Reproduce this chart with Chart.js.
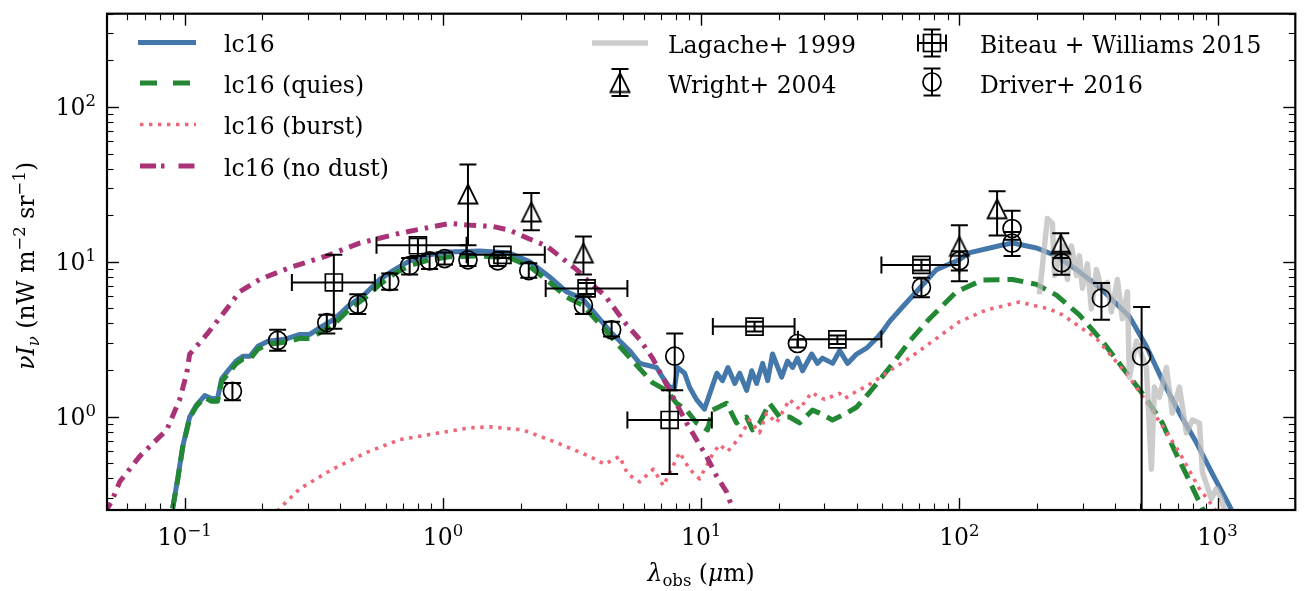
<!DOCTYPE html>
<html>
<head>
<meta charset="utf-8">
<script src="https://cdn.jsdelivr.net/npm/chart.js@4.4.0/dist/chart.umd.min.js"></script>
<style>
  html, body { margin: 0; padding: 0; background: #fff; overflow: hidden; }
</style>
</head>
<body>
<canvas id="sed" width="1309" height="591"></canvas>
<script>
// model curves, wavelength in micron, nuI_nu in nW m^-2 sr^-1
const lc16Lam = [0.0898, 0.0939, 0.0982, 0.1045, 0.111, 0.1195, 0.127, 0.134, 0.139, 0.147,
  0.158, 0.168, 0.179, 0.192, 0.21, 0.244, 0.279, 0.305, 0.339, 0.381,
  0.435, 0.498, 0.569, 0.65, 0.743, 0.888, 1.06, 1.39, 1.81, 2.17,
  2.59, 3.01, 3.47, 4.04, 4.5, 4.96, 5.28, 5.78, 6.72, 7.09,
  7.55, 7.89, 8.1, 8.63, 9.02, 9.6, 10.3, 10.8, 11.5, 12.1,
  12.7, 13.5, 14.1, 15.0, 15.7, 16.4, 17.3, 18.1, 18.9, 20.5,
  21.6, 22.6, 23.6, 24.7, 26.8, 28.2, 29.5, 32.3, 34.4, 36.9,
  40.0, 43.7, 47.8, 50.4, 53.6, 60.2, 68.2, 81.5, 100, 109,
  147, 161, 199, 238, 284, 349, 456, 530, 612, 712,
  828, 955, 1111, 1272];
const lc16Val = [0.256, 0.397, 0.642, 0.996, 1.19, 1.37, 1.31, 1.31, 1.76, 1.98,
  2.29, 2.46, 2.46, 2.85, 3.07, 3.16, 3.40, 3.40, 3.82, 4.29,
  5.27, 6.18, 7.70, 8.91, 10.16, 11.09, 11.59, 11.76, 11.42, 10.0,
  7.99, 6.41, 5.79, 4.29, 3.47, 2.96, 2.67, 2.21, 2.08, 1.80,
  1.55, 1.55, 2.08, 1.91, 1.55, 1.29, 1.12, 1.41, 1.91, 1.71,
  2.08, 1.64, 1.91, 1.48, 1.98, 1.64, 2.21, 1.71, 2.54, 1.80,
  2.29, 2.08, 2.39, 1.98, 2.54, 2.21, 2.39, 2.21, 2.67, 2.21,
  2.54, 2.77, 3.21, 3.55, 4.11, 5.11, 6.41, 8.91, 10.31, 11.42,
  12.84, 13.22, 12.29, 10.93, 8.91, 6.85, 4.42, 2.85, 1.71, 1.055,
  0.681, 0.427, 0.267, 0.164];

const quiesLam = [0.0898, 0.0939, 0.0982, 0.1045, 0.111, 0.1195, 0.127, 0.134, 0.139, 0.147,
  0.158, 0.168, 0.179, 0.192, 0.21, 0.244, 0.279, 0.305, 0.339, 0.381,
  0.435, 0.498, 0.569, 0.65, 0.743, 0.888, 1.06, 1.39, 1.81, 2.17,
  2.59, 3.01, 3.47, 4.04, 4.54, 5.43, 6.48, 7.35, 8.03, 8.78,
  9.60, 10.59, 11.07, 12.54, 13.71, 14.99, 15.81, 16.83, 18.40, 20.12,
  21.99, 24.04, 27.0, 28.73, 32.27, 36.55, 39.96, 44.87, 55.08, 64.11,
  76.62, 97.46, 122.9, 160.6, 198.9, 237.7, 291.7, 358.1, 428.0, 511.4,
  611.5, 678.6, 762.0, 848.0, 910.6];
const quiesVal = [0.256, 0.391, 0.633, 0.981, 1.169, 1.334, 1.258, 1.258, 1.685, 1.894,
  2.191, 2.358, 2.358, 2.729, 2.935, 3.022, 3.205, 3.205, 3.549, 3.990,
  4.968, 5.833, 7.155, 8.404, 9.447, 10.31, 10.77, 10.93, 10.62, 9.31,
  7.37, 5.92, 5.27, 3.99, 3.205, 2.29, 1.661, 1.477, 1.222, 1.103,
  0.912, 0.823, 1.103, 1.222, 0.912, 0.996, 0.823, 0.912, 1.222, 0.996,
  0.996, 0.912, 1.103, 1.055, 0.953, 1.055, 1.152, 1.434, 2.191, 3.067,
  4.293, 6.414, 7.640, 7.698, 7.155, 6.094, 4.550, 3.067, 2.082, 1.414,
  0.912, 0.615, 0.414, 0.2835, 0.221];

const burstLam = [0.2171, 0.2332, 0.2788, 0.3741, 0.5066, 0.6798, 0.971, 1.269, 1.516, 2.035,
  2.755, 3.698, 4.227, 4.832, 5.189, 5.775, 6.531, 7.141, 8.249, 9.018,
  9.858, 11.07, 11.78, 12.66, 14.08, 15.39, 16.83, 17.91, 19.58, 21.99,
  24.04, 26.76, 30.05, 34.35, 36.03, 40.47, 44.24, 53.63, 64.11, 81.53,
  100.1, 127.3, 170.9, 223.3, 250.7, 339.4, 455.5, 567.4, 711.5, 850.4,
  954.6, 1030];
const burstVal = [0.221, 0.256, 0.3426, 0.459, 0.5885, 0.7113, 0.788, 0.848, 0.860, 0.823,
  0.681, 0.555, 0.494, 0.555, 0.427, 0.380, 0.459, 0.358, 0.5885, 0.459,
  0.397, 0.5715, 0.661, 0.597, 0.7325, 0.953, 0.788, 1.055, 0.912, 1.293,
  1.117, 1.434, 1.293, 1.414, 1.314, 1.477, 1.589, 1.978, 2.392, 3.205,
  4.108, 4.894, 5.502, 4.968, 4.550, 3.205, 1.799, 1.055, 0.5885, 0.3426,
  0.2673, 0.221];

const noDustLam = [0.0489, 0.0521, 0.0560, 0.0669, 0.0852, 0.0956, 0.1018, 0.1045, 0.1217, 0.1454,
  0.1633, 0.1952, 0.2550, 0.3545, 0.4759, 0.6798, 1.0615, 1.302, 1.556, 1.812,
  2.128, 2.520, 2.882, 3.294, 3.698, 4.227, 5.143, 5.775, 6.483, 7.546,
  8.780, 10.49, 11.47, 12.54, 13.23, 14.08];
const noDustVal = [0.2378, 0.2835, 0.380, 0.555, 0.823, 1.293, 1.908, 2.536, 3.397, 4.968,
  6.414, 7.698, 9.175, 10.93, 13.22, 15.30, 17.71, 17.20, 16.95, 15.99,
  14.22, 12.65, 10.62, 8.911, 7.368, 6.094, 3.932, 3.159, 2.392, 1.477,
  0.912, 0.555, 0.414, 0.328, 0.256, 0.2055];

// Lagache+ 1999
const lagacheLam = [204.2, 219.3, 229.3, 233.5, 250.7, 262.1, 271.6, 284.1, 291.7, 299.6,
  313.3, 324.7, 339.5, 354.9, 374.4, 388.0, 409.3, 428.0, 447.5, 455.5,
  484.9, 530.1, 554.3, 569.3, 595.3, 633.7, 668.5, 711.5, 757.3, 798.9,
  850.4, 873.4, 946.2, 989.3, 1034.5, 1072];
const lagacheVal = [6.18, 19.05, 17.71, 8.16, 12.65, 7.70, 12.65, 8.16, 10.93, 6.75,
  9.70, 4.97, 8.91, 6.75, 7.37, 4.75, 7.70, 4.29, 6.41, 1.80,
  3.07, 2.08, 0.459, 1.554, 1.334, 2.08, 1.055, 1.554, 0.788, 0.953,
  0.912, 0.439, 0.296, 0.343, 0.296, 0.238];

// Wright+ 2004
const wrightLam = [1.25, 2.2, 3.5, 100, 140, 247];
const wrightVal = [27.4, 21.0, 11.4, 12.6, 22.0, 13.0];
const wrightLo = [12.8, 16.0, 8.3, 7.5, 14.8, 10.6];
const wrightHi = [42.5, 27.8, 14.6, 17.2, 28.6, 15.3];

// Biteau + Williams 2015
const biteauLam = [0.378, 0.80, 1.70, 3.6, 7.55, 16.1, 33.7, 71.3];
const biteauVal = [7.36, 12.8, 11.1, 6.74, 0.953, 3.82, 3.16, 9.55];
const biteauXLo = [0.26, 0.553, 1.235, 2.5, 5.18, 11.1, 23.7, 49.9];
const biteauXHi = [0.545, 1.235, 2.48, 5.18, 11.0, 23.0, 49.9, 100];
const biteauLo = [3.7, 10.9, 10.6, 6.2, 0.427, 3.55, 2.95, 8.8];
const biteauHi = [11.1, 14.2, 11.6, 7.3, 1.48, 4.1, 3.35, 10.3];

// Driver+ 2016
const driverLam = [0.153, 0.229, 0.355, 0.468, 0.622, 0.743, 0.888, 1.015, 1.25, 1.63,
  2.15, 3.5, 4.5, 7.9, 23.6, 71.3, 100, 160, 160, 249, 355, 508];
const driverVal = [1.46, 3.11, 4.05, 5.32, 7.47, 9.45, 10.16, 10.5, 10.3, 10.16,
  8.78, 5.25, 3.64, 2.46, 2.97, 6.85, 10.16, 16.4, 13.2, 9.86, 5.83, 2.46];
const driverLo = [1.28, 2.67, 3.45, 4.61, 6.6, 8.3, 9.0, 9.6, 9.4, 9.4,
  7.9, 4.6, 3.3, 1.48, 2.8, 5.9, 8.8, 13.9, 10.9, 8.26, 4.23, 0.01];
const driverHi = [1.65, 3.65, 4.55, 6.18, 8.4, 10.6, 11.3, 11.5, 11.2, 11.0,
  9.8, 6.0, 4.1, 3.45, 3.15, 7.9, 11.7, 21.4, 15.6, 11.6, 7.3, 5.11];

const xMajor = [0.1, 1, 10, 100, 1000];
const yMajor = [1, 10, 100];
const xTickLabels = ['−1', '0', '1', '2', '3'];
const yTickLabels = ['0', '1', '2'];

const FONT = '"DejaVu Serif", "Liberation Serif", serif';
const F = '23.5px ' + FONT;
const FI = 'italic 23.5px ' + FONT;
const FS = '16.5px ' + FONT;
const FSI = 'italic 16.5px ' + FONT;

const BLUE = '#4477AA', GREEN = '#228833', RED = '#EE6677', PURPLE = '#AA3377';
const GREY = 'rgba(187,187,187,0.75)';
const DASH_Q = [16, 8], DASH_B = [3.4, 5.6], DASH_N = [12, 7, 3.5, 7];

const pts = (xs, ys) => xs.map((v, i) => ({x: v, y: ys[i]}));

// matplotlib-like "^" marker: as wide as it is tall
const triMark = document.createElement('canvas');
triMark.width = 26; triMark.height = 26;
(function () {
  const c = triMark.getContext('2d');
  c.strokeStyle = '#000'; c.lineWidth = 1.8; c.lineJoin = 'miter';
  c.beginPath();
  c.moveTo(13, 3.5); c.lineTo(22.5, 22.5); c.lineTo(3.5, 22.5); c.closePath();
  c.stroke();
})();

function drawRich(ctx, parts, x, y, align) {
  let w = 0;
  for (const p of parts) { ctx.font = p[1]; w += ctx.measureText(p[0]).width; }
  let cx = align === 'center' ? x - w / 2 : (align === 'right' ? x - w : x);
  for (const p of parts) {
    ctx.font = p[1];
    ctx.fillText(p[0], cx, y + (p[2] || 0));
    cx += ctx.measureText(p[0]).width;
  }
}

function capLine(ctx, x1, y1, x2, y2) {
  ctx.beginPath(); ctx.moveTo(x1, y1); ctx.lineTo(x2, y2); ctx.stroke();
}

function vErr(ctx, px, yLo, yHi) {
  capLine(ctx, px, yLo, px, yHi);
  capLine(ctx, px - 8.5, yLo, px + 8.5, yLo);
  capLine(ctx, px - 8.5, yHi, px + 8.5, yHi);
}
function hErr(ctx, py, xLo, xHi) {
  capLine(ctx, xLo, py, xHi, py);
  capLine(ctx, xLo, py - 8.5, xLo, py + 8.5);
  capLine(ctx, xHi, py - 8.5, xHi, py + 8.5);
}

const errorBars = {
  id: 'errorBars',
  afterDatasetsDraw(chart) {
    const {ctx, chartArea: a} = chart;
    const x = chart.scales.x, y = chart.scales.y;
    ctx.save();
    ctx.beginPath();
    ctx.rect(a.left, a.top, a.right - a.left, a.bottom - a.top);
    ctx.clip();
    ctx.strokeStyle = '#000';
    ctx.lineWidth = 2;
    ctx.setLineDash([]);
    wrightLam.forEach((l, i) => vErr(ctx, x.getPixelForValue(l), y.getPixelForValue(wrightLo[i]), y.getPixelForValue(wrightHi[i])));
    driverLam.forEach((l, i) => vErr(ctx, x.getPixelForValue(l), y.getPixelForValue(driverLo[i]), y.getPixelForValue(driverHi[i])));
    biteauLam.forEach((l, i) => {
      const px = x.getPixelForValue(l), py = y.getPixelForValue(biteauVal[i]);
      vErr(ctx, px, y.getPixelForValue(biteauLo[i]), y.getPixelForValue(biteauHi[i]));
      hErr(ctx, py, x.getPixelForValue(biteauXLo[i]), x.getPixelForValue(biteauXHi[i]));
    });
    ctx.restore();
  }
};

function minorTicks(lo, hi) {
  const out = [];
  for (let e = -3; e <= 4; e++) {
    for (let m = 2; m <= 9; m++) {
      const v = m * Math.pow(10, e);
      if (v >= lo * 0.999 && v <= hi * 1.001) out.push(v);
    }
  }
  return out;
}

const axesDecor = {
  id: 'axesDecor',
  afterDraw(chart) {
    const {ctx, chartArea: a} = chart;
    const x = chart.scales.x, y = chart.scales.y;
    ctx.save();
    ctx.setLineDash([]);
    ctx.strokeStyle = '#000';
    ctx.fillStyle = '#000';

    // ticks, inward on all four sides
    const tick = (px, len, w, vertical) => {
      ctx.lineWidth = w;
      if (vertical) {
        capLine(ctx, px, a.bottom, px, a.bottom - len);
        capLine(ctx, px, a.top, px, a.top + len);
      } else {
        capLine(ctx, a.left, px, a.left + len, px);
        capLine(ctx, a.right, px, a.right - len, px);
      }
    };
    minorTicks(0.05, 2000).forEach(v => tick(Math.round(x.getPixelForValue(v)) + 0.5, 6.5, 1.1, true));
    xMajor.forEach(v => tick(Math.round(x.getPixelForValue(v)) + 0.5, 12, 1.4, true));
    minorTicks(0.25, 400).forEach(v => tick(Math.round(y.getPixelForValue(v)) + 0.5, 6.5, 1.1, false));
    yMajor.forEach(v => tick(Math.round(y.getPixelForValue(v)) + 0.5, 12, 1.4, false));

    // frame
    ctx.lineWidth = 2.2;
    ctx.strokeRect(a.left, a.top, a.right - a.left, a.bottom - a.top);

    // tick labels
    ctx.textBaseline = 'alphabetic';
    xMajor.forEach((v, i) => {
      drawRich(ctx, [['10', F], [xTickLabels[i], FS, -9.5]], x.getPixelForValue(v), a.bottom + 35, 'center');
    });
    yMajor.forEach((v, i) => {
      drawRich(ctx, [['10', F], [yTickLabels[i], FS, -9.5]], 96, y.getPixelForValue(v) + 8.5, 'right');
    });

    // axis titles
    drawRich(ctx, [['λ', FI], ['obs', FS, 5], [' (', F], ['μ', FI], ['m)', F]],
      (a.left + a.right) / 2, 581, 'center');
    ctx.save();
    ctx.translate(34, (a.top + a.bottom) / 2 + 4);
    ctx.rotate(-Math.PI / 2);
    drawRich(ctx, [['ν', FI], ['I', FI], ['ν', FSI, 5], [' (nW m', F], ['−2', FS, -9.5],
      [' sr', F], ['−1', FS, -9.5], [')', F]], 0, 0, 'center');
    ctx.restore();

    // legend
    const row = [42.5, 83, 124.5, 166];
    const lineKey = (x0, x1, yy, color, width, dash, offset) => {
      ctx.strokeStyle = color; ctx.lineWidth = width; ctx.setLineDash(dash);
      ctx.lineDashOffset = offset || 0; ctx.lineCap = 'butt';
      capLine(ctx, x0, yy, x1, yy);
      ctx.setLineDash([]); ctx.lineDashOffset = 0;
    };
    lineKey(138, 196, row[0], BLUE, 5, []);
    lineKey(140, 196, row[1], GREEN, 5, [17, 16]);
    lineKey(140, 196, row[2], RED, 3.6, DASH_B);
    lineKey(140, 196, row[3], PURPLE, 5, [16, 5, 3.5, 14]);
    lineKey(592, 648, 43, GREY, 5.5, []);

    ctx.fillStyle = '#000';
    ctx.font = F;
    ['lc16', 'lc16 (quies)', 'lc16 (burst)', 'lc16 (no dust)'].forEach((t, i) => ctx.fillText(t, 224, row[i] + 9.5));
    ctx.fillText('Lagache+ 1999', 668, 52.5);
    ctx.fillText('Wright+ 2004', 668, 92.5);
    ctx.fillText('Biteau + Williams 2015', 980, 52.5);
    ctx.fillText('Driver+ 2016', 980, 92.5);

    ctx.strokeStyle = '#000';
    ctx.lineWidth = 2;
    vErr(ctx, 620, 69, 96);
    ctx.drawImage(triMark, 620 - 13, 82.5 - 13);
    vErr(ctx, 932, 29.5, 56.5);
    hErr(ctx, 43, 918, 946);
    ctx.lineWidth = 1.7;
    ctx.strokeRect(932 - 8.5, 43 - 8.5, 17, 17);
    ctx.lineWidth = 2;
    vErr(ctx, 932, 68.5, 95.5);
    ctx.lineWidth = 1.7;
    ctx.beginPath(); ctx.arc(932, 82, 9, 0, Math.PI * 2); ctx.stroke();
    ctx.restore();
  }
};

const curve = (label, lam, val, color, width, dash, order) => ({
  label, data: pts(lam, val), showLine: true, borderColor: color, backgroundColor: color,
  borderWidth: width, borderDash: dash, borderCapStyle: 'butt', borderJoinStyle: 'round',
  pointRadius: 0, tension: 0, clip: 0, order
});
const marks = (label, lam, val, style, radius, order) => ({
  label, data: pts(lam, val), showLine: false, pointStyle: style, pointRadius: radius,
  pointBorderColor: '#000', pointBackgroundColor: 'rgba(0,0,0,0)', pointBorderWidth: 1.7, order
});

new Chart(document.getElementById('sed'), {
  type: 'scatter',
  data: {
    datasets: [
      curve('lc16', lc16Lam, lc16Val, BLUE, 5, [], 8),
      curve('lc16 (quies)', quiesLam, quiesVal, GREEN, 5, DASH_Q, 7),
      curve('lc16 (burst)', burstLam, burstVal, RED, 3.6, DASH_B, 6),
      curve('lc16 (no dust)', noDustLam, noDustVal, PURPLE, 5, DASH_N, 5),
      curve('Lagache+ 1999', lagacheLam, lagacheVal, GREY, 5.5, [], 4),
      marks('Wright+ 2004', wrightLam, wrightVal, triMark, 10, 3),
      marks('Biteau + Williams 2015', biteauLam, biteauVal, 'rect', 12, 2),
      marks('Driver+ 2016', driverLam, driverVal, 'circle', 9, 1)
    ]
  },
  options: {
    responsive: false,
    devicePixelRatio: 1,
    animation: false,
    events: [],
    layout: { padding: { left: 107, right: 12, top: 7, bottom: 81 } },
    plugins: { legend: { display: false }, tooltip: { enabled: false } },
    scales: {
      x: { type: 'logarithmic', min: 0.05, max: 2000, display: false },
      y: { type: 'logarithmic', min: 0.25, max: 400, display: false }
    }
  },
  plugins: [errorBars, axesDecor]
});
</script>
</body>
</html>
